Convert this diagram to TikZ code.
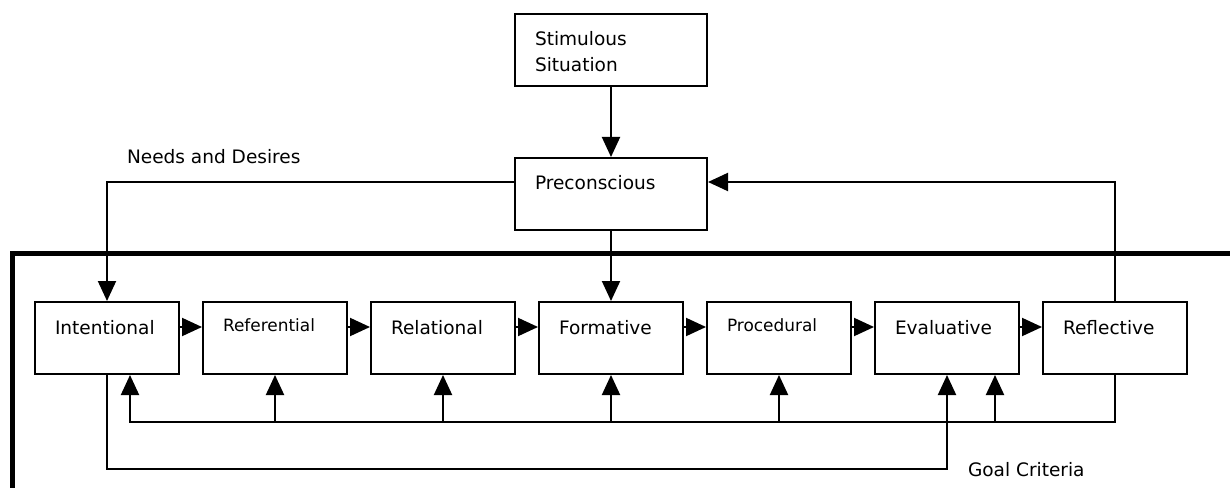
\documentclass[tikz,border=0pt]{standalone}
\usepackage{fontspec}
\setmainfont{DejaVu Sans}
\usetikzlibrary{positioning,arrows.meta}

\begin{document}
\begin{tikzpicture}[x=0.75pt,y=-0.75pt,node distance=16.5pt,>={Triangle[length=15pt,width=13.5pt]},line width=1.5pt,
		stage/.style={rectangle,draw=black,inner xsep=15pt,inner ysep=0pt,text width=78pt,align=left,
			text height=24pt,text depth=30pt,font=\fontsize{13.9}{19.5}\selectfont},
		small/.style={font=\fontsize{12.7}{17}\selectfont,text height=21.75pt,text depth=32.25pt},
		topbox/.style={stage,text width=114pt},
		note/.style={anchor=base west,inner sep=0pt,font=\fontsize{13.9}{19.5}\selectfont}]
		\useasboundingbox (0,0) rectangle (1230,488);

		\node[topbox] (stim) at (611,50)  {Stimulous\\Situation};
		\node[topbox] (pre)  at (611,194) {Preconscious};

		\node[stage]        (int)  at (107,338)       {Intentional};
		\node[stage,small]  (ref)  [right=of int]     {Referential};
		\node[stage]        (rel)  [right=of ref]     {Relational};
		\node[stage]        (form) [right=of rel]     {Formative};
		\node[stage,small]  (proc) [right=of form]    {Procedural};
		\node[stage]        (eval) [right=of proc]    {Evaluative};
		\node[stage]        (refl) [right=of eval]    {Reflective};

		\node[note] (needs) at (126,164) {Needs and Desires};
		\node[note] (goal)  at (967,476) {Goal Criteria};

		% heavy frame
		\draw[line width=3.75pt] (1250,253) -| (12,510);

		\coordinate (prel) at ([yshift=9pt]pre.west);
		\coordinate (prer) at ([yshift=9pt]pre.east);
		\coordinate (fb) at (0,422);
		\coordinate (gl) at (0,469);
		\coordinate (intfb) at ([xshift=17.25pt]int.south);
		\coordinate (evfb) at ([xshift=36pt]eval.south);

		\draw[->] (stim) -- (pre);
		\draw[->] (pre) -- (form);
		\draw[->] (prel) -| (int.north);
		\draw[->] (refl.north) |- (prer);

		\foreach \a/\b in {int/ref,ref/rel,rel/form,form/proc,proc/eval,eval/refl}
			\draw[->] ([yshift=8.25pt]\a.east) -- ([yshift=8.25pt]\b.west);

		% feedback
		\draw[->] (refl.south) |- (intfb |- fb) -- (intfb);
		\foreach \n in {ref,rel,form,proc}
			\draw[->] (\n.south |- fb) -- (\n.south);
		\draw[->] (evfb |- fb) -- (evfb);

		% goal criteria
		\draw[->] (int.south) |- (eval.south |- gl) -- (eval.south);
\end{tikzpicture}
\end{document}
